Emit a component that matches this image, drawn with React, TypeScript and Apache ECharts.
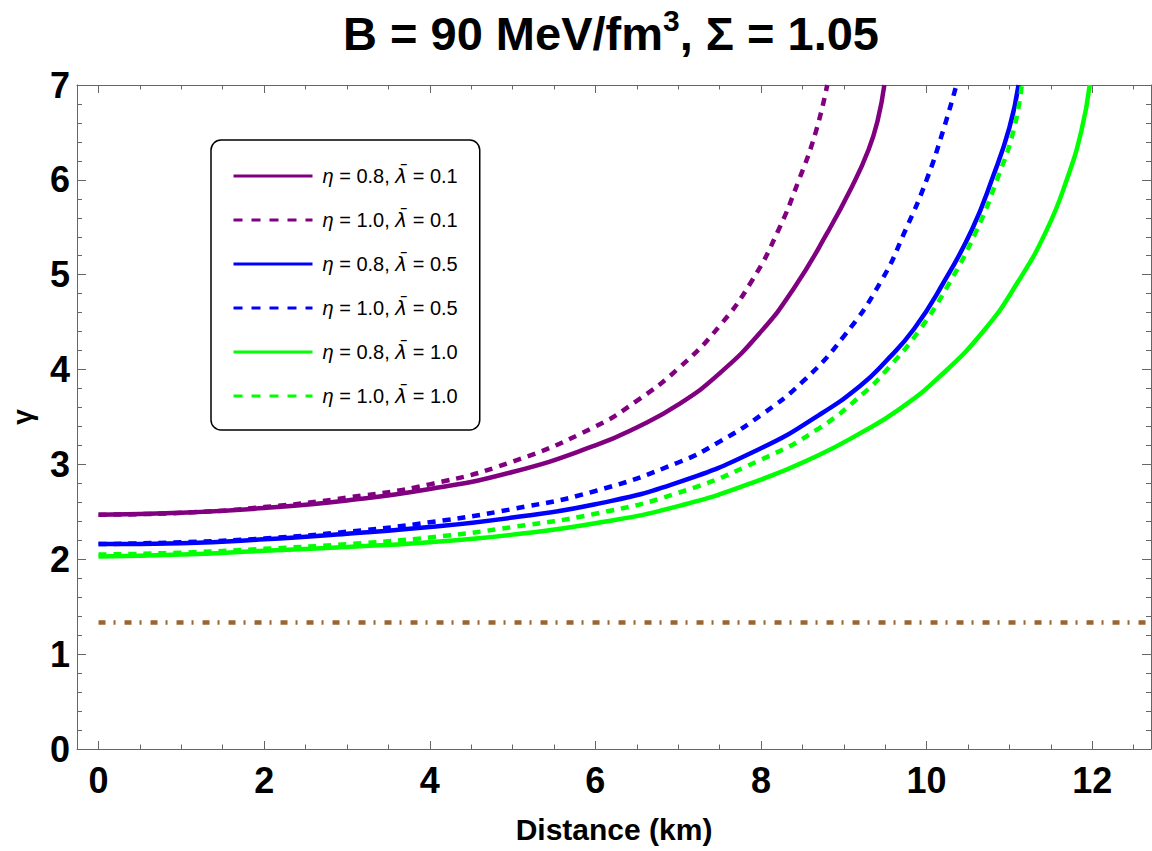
import React, { useEffect, useRef } from "react";
import * as echarts from "echarts";

const FONT = "'Liberation Sans', Arial, sans-serif";

// Series data: [distance (km), gamma]
const purpleSolid: number[][] = [
  [0, 2.47], [1, 2.49], [2, 2.54], [3, 2.62], [4, 2.74], [5, 2.92], [6, 3.2], [6.5, 3.39],
  [7, 3.63], [7.5, 3.96], [8, 4.4], [8.4, 4.86], [8.8, 5.44], [9.1, 5.93], [9.3, 6.32], [9.41, 6.63], [9.49, 7.0],
];
const purpleDashed: number[][] = [
  [0, 2.47], [1, 2.49], [2, 2.55], [3, 2.65], [4, 2.79], [5, 3.03], [6, 3.4], [6.5, 3.67],
  [7, 4.01], [7.5, 4.46], [7.9, 4.95], [8.2, 5.45], [8.45, 5.98], [8.66, 6.5], [8.8, 7.0],
];
const blueSolid: number[][] = [
  [0, 2.16], [1, 2.17], [2, 2.21], [3, 2.27], [4, 2.34], [5, 2.44], [6, 2.58], [7, 2.81],
  [8, 3.17], [8.7, 3.52], [9.2, 3.83], [9.5, 4.08], [9.85, 4.43], [10.2, 4.91], [10.55, 5.48],
  [10.8, 6.03], [11.0, 6.55], [11.11, 7.0],
];
const blueDashed: number[][] = [
  [0, 2.16], [1, 2.18], [2, 2.22], [3, 2.29], [4, 2.39], [5, 2.53], [6, 2.72], [7, 3.02],
  [7.5, 3.24], [8, 3.52], [8.5, 3.87], [9, 4.35], [9.45, 4.93], [9.75, 5.48], [10, 6.0],
  [10.2, 6.52], [10.36, 7.0],
];
const greenSolid: number[][] = [
  [0, 2.03], [1, 2.05], [2, 2.09], [3, 2.13], [4, 2.18], [5, 2.26], [6, 2.38], [7, 2.56],
  [8, 2.84], [8.7, 3.1], [9.2, 3.33], [9.65, 3.57], [10.15, 3.92], [10.7, 4.42], [11.1, 4.92],
  [11.45, 5.47], [11.7, 6.02], [11.87, 6.52], [11.97, 7.0],
];
const greenDashed: number[][] = [
  [0, 2.05], [1, 2.07], [2, 2.11], [3, 2.16], [4, 2.23], [5, 2.34], [6, 2.48], [7, 2.7],
  [8, 3.05], [8.7, 3.38], [9.25, 3.76], [9.5, 3.98], [9.9, 4.4], [10.28, 4.92], [10.6, 5.46],
  [10.85, 6.0], [11.05, 6.52], [11.15, 7.0],
];
const refLevel: number[][] = [
  [0, 1.333], [12.71, 1.333],
];

const seriesNames = [
  "η = 0.8, λ\u0304 = 0.1",
  "η = 1.0, λ\u0304 = 0.1",
  "η = 0.8, λ\u0304 = 0.5",
  "η = 1.0, λ\u0304 = 0.5",
  "η = 0.8, λ\u0304 = 1.0",
  "η = 1.0, λ\u0304 = 1.0",
];
const seriesColors = ["#800080", "#800080", "#0000ff", "#0000ff", "#00ff00", "#00ff00"];
const seriesDashed = [false, true, false, true, false, true];
const seriesData = [purpleSolid, purpleDashed, blueSolid, blueDashed, greenSolid, greenDashed];

const xMin = -0.26;
const xMax = 12.71;
const xMajorTicks = [0, 2, 4, 6, 8, 10, 12];
const xMinorTicks = [0.5, 1, 1.5, 2.5, 3, 3.5, 4.5, 5, 5.5, 6.5, 7, 7.5, 8.5, 9, 9.5, 10.5, 11, 11.5, 12.5];
const yMin = 0;
const yMax = 7;

const AXIS_COLOR = "#666666";
const TRANSPARENT = "rgba(0,0,0,0)";

export default function App() {
  const ref = useRef<HTMLDivElement>(null);
  useEffect(() => {
    if (!ref.current) return;
    const chart = echarts.init(ref.current, undefined, { renderer: "svg" });

    const xAxisBase = (pos: "bottom" | "top", ticks: number[], len: number, showLine: boolean, showLabel: boolean, withName: boolean) => ({
      type: "value",
      position: pos,
      min: xMin,
      max: xMax,
      gridIndex: 0,
      axisLine: { show: showLine, onZero: false, lineStyle: { color: AXIS_COLOR, width: 1 } },
      axisTick: { show: true, inside: true, length: len, customValues: ticks, lineStyle: { color: AXIS_COLOR, width: 1 } },
      axisLabel: {
        show: showLabel,
        customValues: ticks,
        margin: 13,
        color: "#000",
        fontSize: 36,
        fontWeight: "bold",
        fontFamily: FONT,
      },
      splitLine: { show: false },
      name: withName ? "Distance (km)" : "",
      nameLocation: "middle",
      nameGap: 65,
      nameTextStyle: { color: "#000", fontSize: 30, fontWeight: "bold", fontFamily: FONT },
    });

    const yAxisBase = (pos: "left" | "right", showLabel: boolean) => ({
      type: "value",
      position: pos,
      min: yMin,
      max: yMax,
      interval: 1,
      gridIndex: 0,
      axisLine: { show: true, onZero: false, lineStyle: { color: AXIS_COLOR, width: 1 } },
      axisTick: { show: true, inside: true, length: 9, lineStyle: { color: AXIS_COLOR, width: 1 } },
      minorTick: { show: true, splitNumber: 5, length: 5, lineStyle: { color: AXIS_COLOR, width: 1 } },
      axisLabel: {
        show: showLabel,
        margin: 7,
        color: "#000",
        fontSize: 36,
        fontWeight: "bold",
        fontFamily: FONT,
      },
      splitLine: { show: false },
      minorSplitLine: { show: false },
      name: showLabel ? "γ" : "",
      nameLocation: "middle",
      nameRotate: 90,
      nameGap: 41,
      nameTextStyle: { color: "#000", fontSize: 28, fontWeight: "bold", fontFamily: FONT },
    });

    const lineSeries = seriesNames.map((name, i) => ({
      type: "line",
      name,
      data: seriesData[i],
      xAxisIndex: 0,
      yAxisIndex: 0,
      symbol: "none",
      smooth: 0.5,
      clip: true,
      lineStyle: { color: seriesColors[i], width: 4.5, type: seriesDashed[i] ? [8, 7] : "solid", cap: "butt" },
      itemStyle: { color: seriesColors[i] },
      z: 3,
    }));

    const hiddenSymbol = { color: TRANSPARENT, borderColor: TRANSPARENT, borderWidth: 0, opacity: 0 };

    const option: any = {
      animation: false,
      backgroundColor: "#ffffff",
      title: {
        text: "{a|B = 90 MeV/fm}{s|3}{a|, Σ = 1.05}",
        left: 611,
        textAlign: "center",
        top: 5,
        padding: 0,
        textStyle: {
          rich: {
            a: { fontSize: 47, fontWeight: "bold", fontFamily: FONT, color: "#000", lineHeight: 57 },
            s: { fontSize: 30, fontWeight: "bold", fontFamily: FONT, color: "#000", verticalAlign: "top", lineHeight: 24 },
          },
        },
      },
      grid: { left: 77, right: 1, top: 85, bottom: 102, containLabel: false, outerBoundsMode: "none" },
      legend: {
        show: true,
        orient: "vertical",
        left: 211,
        top: 140,
        itemWidth: 79,
        itemHeight: 20,
        itemGap: 24,
        padding: [26, 22, 24, 21],
        backgroundColor: "#ffffff",
        borderColor: "#000000",
        borderWidth: 1.5,
        borderRadius: 10,
        selectedMode: false,
        lineStyle: { width: 3 },
        itemStyle: hiddenSymbol,
        data: seriesNames.map((name, i) => ({
          name,
          itemStyle: hiddenSymbol,
          lineStyle: { width: 3, type: seriesDashed[i] ? [9, 9] : "solid", color: seriesColors[i] },
        })),
        formatter: (name: string) => {
          const parts = name.split(", ");
          const eta = parts[0].replace("η", "");
          const lam = parts[1].replace("λ\u0304", "");
          return "{i|η}{t|" + eta + ", }{l|λ\u0304}{t|" + lam + "}";
        },
        textStyle: {
          padding: [0, 0, 0, 5],
          rich: {
            i: { fontSize: 20, fontStyle: "italic", fontFamily: FONT, color: "#000", lineHeight: 20 },
            l: { fontSize: 20, fontStyle: "italic", fontFamily: "'DejaVu Sans', sans-serif", color: "#000", lineHeight: 20 },
            t: { fontSize: 20, fontFamily: FONT, color: "#000", lineHeight: 20 },
          },
        },
      },
      xAxis: [
        xAxisBase("bottom", xMajorTicks, 8, true, true, true),
        xAxisBase("bottom", xMinorTicks, 4.5, false, false, false),
        xAxisBase("top", xMajorTicks, 8, true, false, false),
        xAxisBase("top", xMinorTicks, 4.5, false, false, false),
      ],
      yAxis: [yAxisBase("left", true), yAxisBase("right", false)],
      series: [
        ...lineSeries,
        {
          type: "line",
          name: "ref",
          data: refLevel,
          xAxisIndex: 0,
          yAxisIndex: 0,
          symbol: "none",
          lineStyle: { color: "#996633", width: 4.5, type: [7, 8, 2, 9], cap: "butt" },
          itemStyle: { color: "#996633" },
          z: 2,
        },
      ],
    };
    chart.setOption(option);
    return () => chart.dispose();
  }, []);

  return (
    <div
      ref={ref}
      style={{ position: "absolute", left: 0, top: 0, width: 1152, height: 851, background: "#fff" }}
    />
  );
}
